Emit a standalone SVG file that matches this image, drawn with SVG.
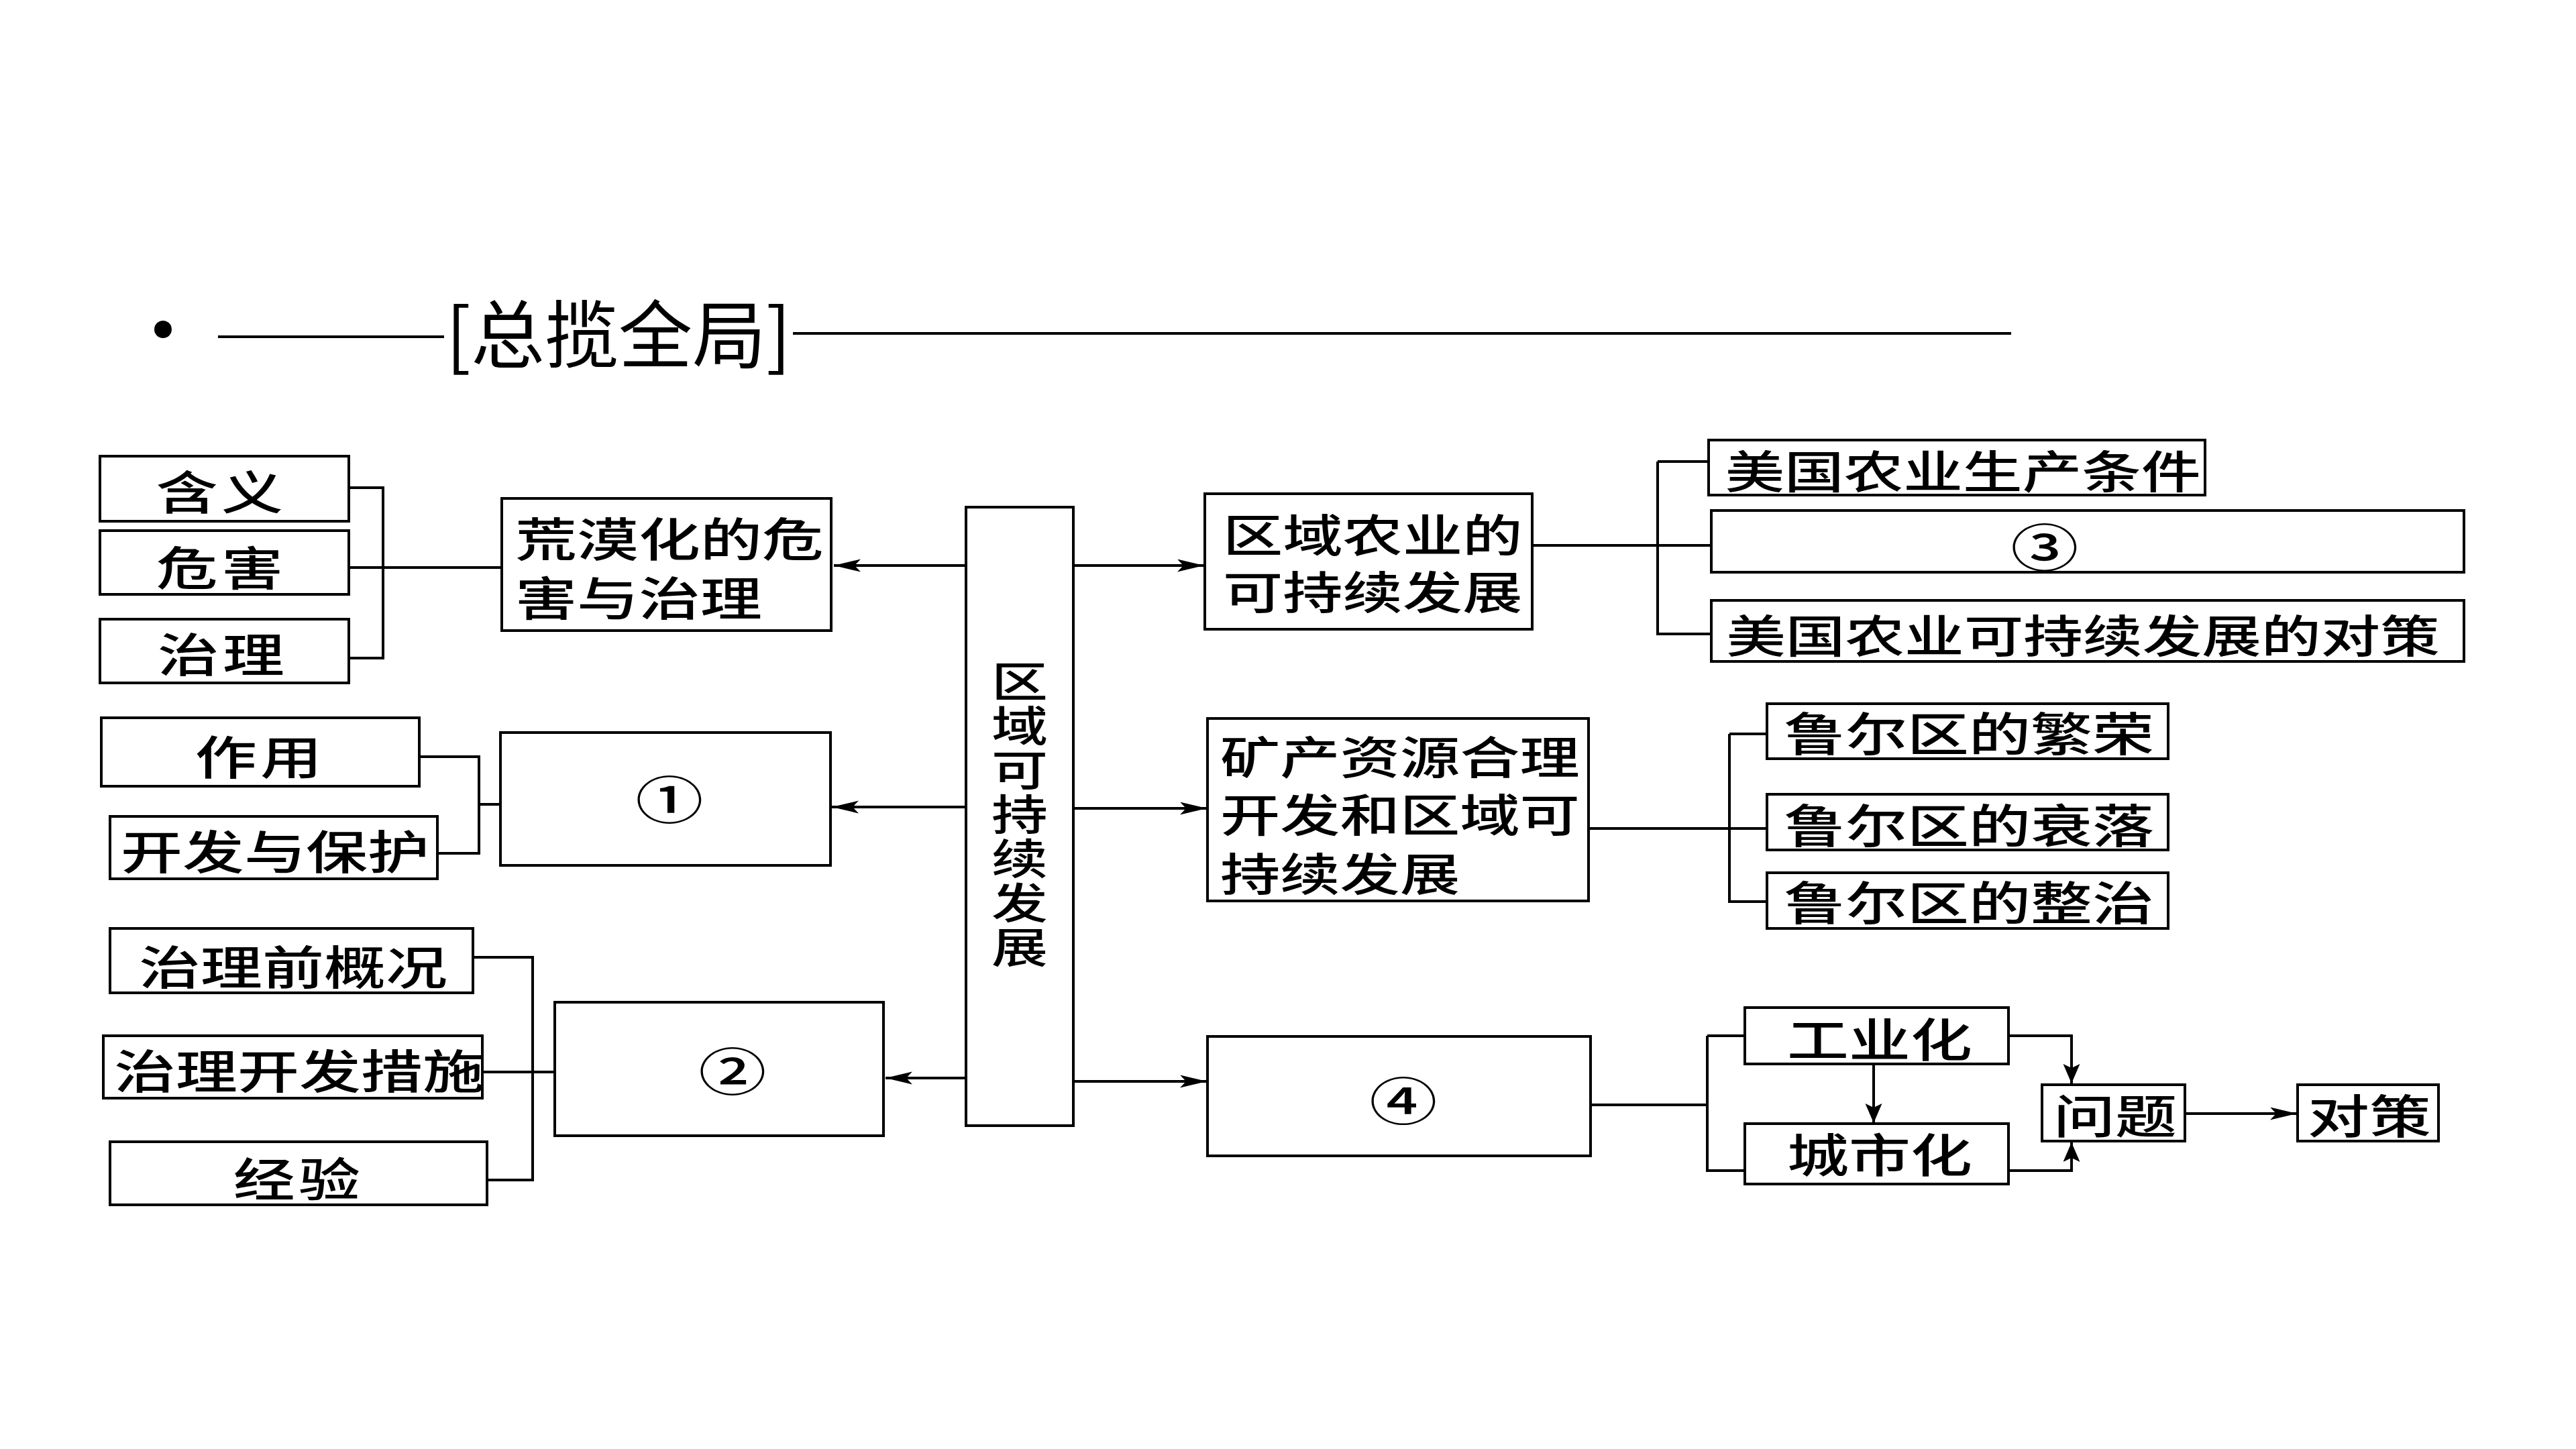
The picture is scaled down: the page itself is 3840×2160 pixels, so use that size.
<svg xmlns="http://www.w3.org/2000/svg" width="3840" height="2160" viewBox="0 0 3840 2160">
<style>
.bg{fill:#fff}
.box{fill:#fff;stroke:#000;stroke-width:4}
.ln{fill:none;stroke:#000;stroke-width:4}
.t{font-family:"Noto Sans CJK SC","Noto Sans",sans-serif;font-size:69px;font-weight:500;dominant-baseline:central;fill:#000}
.s{font-size:67px}
.u{font-size:66.5px}
.v{font-size:63px;writing-mode:vertical-rl;text-orientation:upright;letter-spacing:3px}
.n{font-size:76px}
.c{text-anchor:middle}
.w{letter-spacing:4px}
.title{font-family:"Noto Sans CJK SC","Noto Sans",sans-serif;font-size:110px;dominant-baseline:central;fill:#000;text-anchor:middle}
</style>
<defs>
<marker id="ah" markerUnits="userSpaceOnUse" markerWidth="42" markerHeight="20" refX="40" refY="9.5" orient="auto">
<path d="M0,0 L40,9.5 L0,19 L9,9.5 Z" fill="#000"/>
</marker>
<marker id="av" markerUnits="userSpaceOnUse" markerWidth="30" markerHeight="26" refX="29" refY="12.5" orient="auto">
<path d="M0,0 L29,12.5 L0,25 L6,12.5 Z" fill="#000"/>
</marker>
</defs>
<rect class="bg" x="0" y="0" width="3840" height="2160"/>

<g id="title">
<circle cx="243" cy="491" r="13" fill="#000"/>
<line class="ln" x1="325" y1="502" x2="662" y2="502"/>
<text class="title" x="922" y="492">[总揽全局]</text>
<line class="ln" x1="1182" y1="497" x2="2998" y2="497"/>
</g>

<g id="connectors">
<path class="ln" d="M520,727 H571 V981 H520 M520,846 H748"/>
<path class="ln" d="M625,1128 H714 V1272 H652 M714,1199 H746"/>
<path class="ln" d="M705,1427 H794 V1759 H726 M719,1598 H827"/>
<path class="ln" d="M1440,843 H1243" marker-end="url(#ah)"/>
<path class="ln" d="M1440,1203 H1240" marker-end="url(#ah)"/>
<path class="ln" d="M1440,1607 H1320" marker-end="url(#ah)"/>
<path class="ln" d="M1600,843 H1795" marker-end="url(#ah)"/>
<path class="ln" d="M1600,1205 H1799" marker-end="url(#ah)"/>
<path class="ln" d="M1600,1612 H1799" marker-end="url(#ah)"/>
<path class="ln" d="M2284,813 H2551 M2471,688 H2547 M2471,688 V945 H2551"/>
<path class="ln" d="M2368,1235 H2634 M2578,1094 H2634 M2578,1094 V1344 H2634"/>
<path class="ln" d="M2371,1647 H2545 M2545,1544 H2601 M2545,1544 V1745 H2601"/>
<path class="ln" d="M2793,1585 V1674" marker-end="url(#av)"/>
<path class="ln" d="M2994,1544 H3088 V1615" marker-end="url(#av)"/>
<path class="ln" d="M2994,1745 H3088 V1703" marker-end="url(#av)"/>
<path class="ln" d="M3257,1660 H3424" marker-end="url(#ah)"/>
</g>

<g id="n-hanyi"><rect class="box" x="149" y="680" width="371" height="97"/>
<text class="t c w" transform="matrix(1.333 0 0 1 330 730)">含义</text></g>
<g id="n-weihai"><rect class="box" x="149" y="791" width="371" height="95"/>
<text class="t c w" transform="matrix(1.333 0 0 1 330 843)">危害</text></g>
<g id="n-zhili"><rect class="box" x="149" y="923" width="371" height="95"/>
<text class="t c w" transform="matrix(1.333 0 0 1 332 972)">治理</text></g>
<g id="n-desert"><rect class="box" x="748" y="743" width="491" height="197"/>
<text class="t" transform="matrix(1.333 0 0 1 768 800)">荒漠化的危</text>
<text class="t" transform="matrix(1.333 0 0 1 768 888)">害与治理</text></g>

<g id="n-zuoyong"><rect class="box" x="151" y="1070" width="474" height="102"/>
<text class="t c w" transform="matrix(1.333 0 0 1 388 1125)">作用</text></g>
<g id="n-kaifa"><rect class="box" x="164" y="1217" width="488" height="93"/>
<text class="t c" transform="matrix(1.333 0 0 1 410 1266)">开发与保护</text></g>
<g id="n-1"><rect class="box" x="746" y="1092" width="492" height="198"/>
<text class="t n c" transform="matrix(1.333 0 0 1 998 1188)">①</text></g>

<g id="n-gaikuang"><rect class="box" x="164" y="1384" width="541" height="96"/>
<text class="t c" transform="matrix(1.333 0 0 1 437 1438)">治理前概况</text></g>
<g id="n-cuoshi"><rect class="box" x="154" y="1544" width="565" height="93"/>
<text class="t c" transform="matrix(1.333 0 0 1 446 1593)">治理开发措施</text></g>
<g id="n-jingyan"><rect class="box" x="164" y="1702" width="562" height="94"/>
<text class="t c w" transform="matrix(1.333 0 0 1 445 1754)">经验</text></g>
<g id="n-2"><rect class="box" x="827" y="1494" width="490" height="199"/>
<text class="t n c" transform="matrix(1.333 0 0 1 1092 1593)">②</text></g>

<g id="n-center"><rect class="box" x="1440" y="756" width="160" height="922"/>
<text class="t v" transform="matrix(1.333 0 0 1 1520 0)" x="0" y="984">区域可持续发展</text></g>

<g id="n-agri"><rect class="box" x="1796" y="736" width="488" height="202"/>
<text class="t s" transform="matrix(1.333 0 0 1 1823 794)">区域农业的</text>
<text class="t s" transform="matrix(1.333 0 0 1 1823 879)">可持续发展</text></g>
<g id="n-mine"><rect class="box" x="1800" y="1071" width="568" height="272"/>
<text class="t s" transform="matrix(1.333 0 0 1 1819 1125)">矿产资源合理</text>
<text class="t s" transform="matrix(1.333 0 0 1 1819 1211)">开发和区域可</text>
<text class="t s" transform="matrix(1.333 0 0 1 1819 1299)">持续发展</text></g>
<g id="n-4"><rect class="box" x="1800" y="1545" width="571" height="178"/>
<text class="t n c" transform="matrix(1.333 0 0 1 2092 1637)">④</text></g>

<g id="n-us1"><rect class="box" x="2547" y="656" width="740" height="82"/>
<text class="t u c" transform="matrix(1.333 0 0 1 2926 699)">美国农业生产条件</text></g>
<g id="n-3"><rect class="box" x="2551" y="761" width="1122" height="92"/>
<text class="t n c" transform="matrix(1.333 0 0 1 3048 812)">③</text></g>
<g id="n-us2"><rect class="box" x="2551" y="895" width="1122" height="91"/>
<text class="t u c" transform="matrix(1.333 0 0 1 3105 944)">美国农业可持续发展的对策</text></g>

<g id="n-ruhr1"><rect class="box" x="2634" y="1049" width="598" height="82"/>
<text class="t c" transform="matrix(1.333 0 0 1 2935 1090)">鲁尔区的繁荣</text></g>
<g id="n-ruhr2"><rect class="box" x="2634" y="1184" width="598" height="83"/>
<text class="t c" transform="matrix(1.333 0 0 1 2935 1227)">鲁尔区的衰落</text></g>
<g id="n-ruhr3"><rect class="box" x="2634" y="1301" width="598" height="83"/>
<text class="t c" transform="matrix(1.333 0 0 1 2935 1342)">鲁尔区的整治</text></g>

<g id="n-ind"><rect class="box" x="2601" y="1502" width="393" height="84"/>
<text class="t c" transform="matrix(1.333 0 0 1 2802 1546)">工业化</text></g>
<g id="n-urb"><rect class="box" x="2601" y="1675" width="393" height="90"/>
<text class="t c" transform="matrix(1.333 0 0 1 2802 1718)">城市化</text></g>
<g id="n-prob"><rect class="box" x="3044" y="1617" width="213" height="84"/>
<text class="t c" transform="matrix(1.333 0 0 1 3153 1660)">问题</text></g>
<g id="n-count"><rect class="box" x="3425" y="1617" width="210" height="84"/>
<text class="t c" transform="matrix(1.333 0 0 1 3532 1660)">对策</text></g>
</svg>
